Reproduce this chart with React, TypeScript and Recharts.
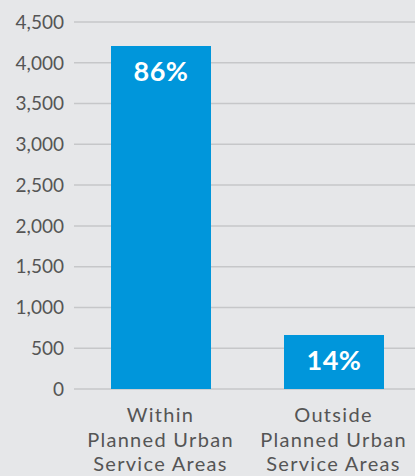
import React from 'react';
import { BarChart, Bar, XAxis, YAxis, CartesianGrid, LabelList } from 'recharts';

const categories = ['Within|Planned Urban|Service Areas', 'Outside|Planned Urban|Service Areas'];
const counts = [4206, 662];
const shares = ['86%', '14%'];
const yTicks = [0, 500, 1000, 1500, 2000, 2500, 3000, 3500, 4000, 4500];

const data = categories.map((c, i) => ({ name: c, value: counts[i], share: shares[i] }));

const FONT = 'Lato, "DejaVu Sans", sans-serif';

const XTick = ({ x, y, payload }: any) => {
  const lines = String(payload.value).split('|');
  return (
    <text x={x} y={y} textAnchor="middle" fill="#555" fontSize={20} letterSpacing={1.3} fontFamily={FONT}>
      {lines.map((l, i) => (
        <tspan key={i} x={x} dy={i === 0 ? 25 : 24.5}>
          {l}
        </tspan>
      ))}
    </text>
  );
};

const ShareLabel = ({ x, y, width, index }: any) => (
  <text
    x={x + width / 2}
    y={y + 35}
    textAnchor="middle"
    fill="#fff"
    fontSize={27}
    fontWeight="bold"
    letterSpacing={0.5}
    fontFamily={FONT}
  >
    {shares[index]}
  </text>
);

export default function App() {
  return (
    <div style={{ position: 'fixed', left: 0, top: 0, width: 415, height: 476, overflow: 'hidden', background: '#e6e7e9' }}>
      <BarChart width={420} height={476} data={data} margin={{ top: 22, right: 0, bottom: 0, left: 0 }}>
        <CartesianGrid vertical={false} stroke="#c6c7c9" strokeWidth={1.5} />
        <YAxis
          ticks={yTicks}
          domain={[0, 4500]}
          width={74}
          axisLine={false}
          tickLine={false}
          tickMargin={4}
          tick={{ fill: '#555', fontSize: 19, fontFamily: FONT }}
          tickFormatter={(v: number) => v.toLocaleString('en-US')}
          interval={0}
        />
        <XAxis
          dataKey="name"
          height={87}
          axisLine={false}
          tickLine={false}
          tick={<XTick />}
          interval={0}
        />
        <Bar dataKey="value" fill="#0096db" barSize={100} isAnimationActive={false}>
          <LabelList dataKey="share" content={<ShareLabel />} />
        </Bar>
      </BarChart>
    </div>
  );
}
